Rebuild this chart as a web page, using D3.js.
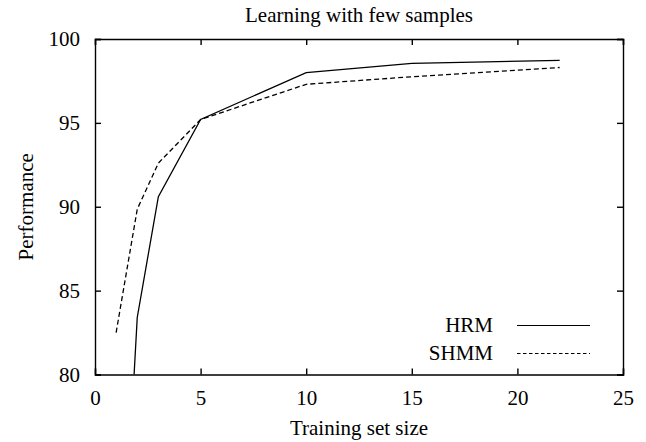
<!DOCTYPE html>
<html>
<head>
<meta charset="utf-8">
<script src="https://cdn.jsdelivr.net/npm/d3@7"></script>
<style>
  body { margin: 0; background: #fff; }
  svg text { font-family: "Liberation Serif", "DejaVu Serif", serif; fill: #000; }
</style>
</head>
<body>
<div id="chart"></div>
<script>
// Data
const trainingSizes = [1, 2, 3, 5, 10, 15, 22];
const hrmValues = [60.5, 83.4, 90.6, 95.2, 98.0, 98.55, 98.72];
const shmmValues = [82.5, 89.85, 92.6, 95.2, 97.3, 97.75, 98.3];
const seriesNames = ['HRM', 'SHMM'];
const xTicks = [0, 5, 10, 15, 20, 25];
const yTicks = [80, 85, 90, 95, 100];

const width = 646;
const height = 442;
const marginTop = 39;
const marginRight = 23;
const marginBottom = 67.5;
const marginLeft = 95;

const svg = d3.select('#chart').append('svg')
    .attr('width', width)
    .attr('height', height);

const x = d3.scaleLinear().domain([0, 25]).range([marginLeft, width - marginRight]);
const y = d3.scaleLinear().domain([80, 100]).range([height - marginBottom, marginTop]);

// Clip lines to the plot box
svg.append('clipPath').attr('id', 'plot-clip')
  .append('rect')
    .attr('x', marginLeft).attr('y', marginTop)
    .attr('width', x(25) - x(0)).attr('height', y(80) - y(100));

// Axes with inward ticks, mirrored on top and right
const tickLen = 6;
const fontSize = '21px';
const bottomAxis = svg.append('g')
    .attr('transform', `translate(0,${y(80)})`)
    .call(d3.axisBottom(x).tickValues(xTicks).tickSize(-tickLen).tickPadding(16));
const topAxis = svg.append('g')
    .attr('transform', `translate(0,${y(100)})`)
    .call(d3.axisTop(x).tickValues(xTicks).tickSize(-tickLen).tickFormat(''));
const leftAxis = svg.append('g')
    .attr('transform', `translate(${x(0)},0)`)
    .call(d3.axisLeft(y).tickValues(yTicks).tickSize(-tickLen).tickPadding(15));
const rightAxis = svg.append('g')
    .attr('transform', `translate(${x(25)},0)`)
    .call(d3.axisRight(y).tickValues(yTicks).tickSize(-tickLen).tickFormat(''));

[bottomAxis, topAxis, leftAxis, rightAxis].forEach(a => {
  a.select('.domain').attr('stroke', '#000').attr('stroke-width', 1.4);
  a.selectAll('.tick line').attr('stroke', '#000').attr('stroke-width', 1.4);
  a.selectAll('.tick text')
      .attr('font-family', '"Liberation Serif", serif')
      .attr('font-size', fontSize)
      .attr('fill', '#000');
});

// Lines
const line = d3.line().x(d => x(d[0])).y(d => y(d[1]));
const series = [
  { name: seriesNames[0], values: hrmValues, dash: null },
  { name: seriesNames[1], values: shmmValues, dash: '5,3' },
];
series.forEach(s => {
  svg.append('path')
      .datum(trainingSizes.map((t, i) => [t, s.values[i]]))
      .attr('clip-path', 'url(#plot-clip)')
      .attr('fill', 'none')
      .attr('stroke', '#000')
      .attr('stroke-width', 1.3)
      .attr('stroke-dasharray', s.dash)
      .attr('d', line);
});

// Legend
const legend = svg.append('g');
series.forEach((s, i) => {
  const ly = 325.5 + i * 28;
  legend.append('text')
      .attr('x', 493).attr('y', ly + 6.5)
      .attr('text-anchor', 'end')
      .attr('font-size', fontSize)
      .text(s.name);
  legend.append('line')
      .attr('x1', 517).attr('x2', 590)
      .attr('y1', ly).attr('y2', ly)
      .attr('stroke', '#000')
      .attr('stroke-width', 1.2)
      .attr('stroke-dasharray', s.dash ? '3.5,2.5' : null);
});

// Titles
svg.append('text')
    .attr('x', (x(0) + x(25)) / 2).attr('y', 22)
    .attr('text-anchor', 'middle')
    .attr('font-size', fontSize)
    .text('Learning with few samples');
svg.append('text')
    .attr('x', (x(0) + x(25)) / 2).attr('y', 435)
    .attr('text-anchor', 'middle')
    .attr('font-size', fontSize)
    .text('Training set size');
svg.append('text')
    .attr('transform', `translate(33,${(y(80) + y(100)) / 2}) rotate(-90)`)
    .attr('text-anchor', 'middle')
    .attr('font-size', fontSize)
    .text('Performance');
</script>
</body>
</html>
